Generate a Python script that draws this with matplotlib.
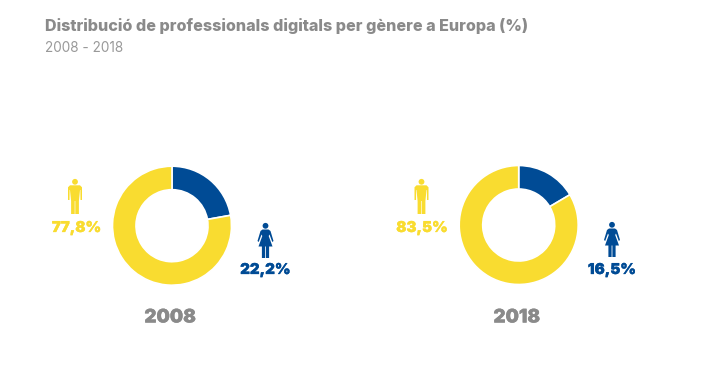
import matplotlib
matplotlib.use('Agg')
import matplotlib.pyplot as plt
import matplotlib.patheffects as pe
from matplotlib.patches import Circle, Polygon

# Dades
anys = ['2008', '2018']
dones = [22.2, 16.5]
homes = [77.8, 83.5]
etiquetes_homes = ['77,8%', '83,5%']
etiquetes_dones = ['22,2%', '16,5%']

GROC = '#F9DC30'
BLAU = '#004B95'
GRIS = '#8A8A8A'
W, H = 720, 370

plt.rcParams['font.family'] = ['Inter', 'DejaVu Sans']
fig = plt.figure(figsize=(W / 100, H / 100), dpi=100, facecolor='white')

# capa en pixels per als textos i les icones
bg = fig.add_axes([0, 0, 1, 1])
bg.set_xlim(0, W)
bg.set_ylim(H, 0)
bg.axis('off')


def home(cx, top, color):
    bg.add_patch(Circle((cx, top + 2.8), 2.9, fc=color, ec='none'))
    cos = [(-5, 6.3), (5, 6.3), (7, 8.3), (7, 21), (5.5, 21), (5.4, 11), (5, 11), (3.9, 22), (3.9, 35),
           (0.3, 35), (0.3, 22), (-0.3, 22), (-0.3, 35), (-3.9, 35), (-3.9, 22), (-5, 11), (-5.4, 11),
           (-5.5, 21), (-7, 21), (-7, 8.3)]
    bg.add_patch(Polygon([(cx + x, top + y) for x, y in cos], fc=color, ec='none'))


def dona(cx, top, color):
    bg.add_patch(Circle((cx, top + 2.8), 2.9, fc=color, ec='none'))
    cos = [(-3, 6.5), (3, 6.5), (5, 8), (8, 18), (6.8, 19), (4, 11.5), (3.2, 13), (7, 23.5), (3.6, 23.5),
           (3.6, 35), (0.4, 35), (0.4, 23.5), (-0.4, 23.5), (-0.4, 35), (-3.6, 35), (-3.6, 23.5),
           (-7, 23.5), (-3.2, 13), (-4, 11.5), (-6.8, 19), (-8, 18), (-5, 8)]
    bg.add_patch(Polygon([(cx + x, top + y) for x, y in cos], fc=color, ec='none'))


# una mica mes de gruix, la lletra original es mes negra que Inter
def gruix(color):
    return [pe.withStroke(linewidth=0.2, foreground=color)]


bg.text(45, 26, 'Distribució de professionals digitals per gènere a Europa (%)',
        fontsize=11.6, fontweight='heavy', color=GRIS, va='center', ha='left')
bg.text(45, 48, '2008 - 2018', fontsize=9.8, fontweight='normal', color='#999999', va='center', ha='left')

centres = [(172, 225.7), (518.7, 225)]
radi = 59.5
pos_homes = [(75, 179, 76.5, 228), (421.5, 179, 422, 228)]
pos_dones = [(265.5, 223, 265.5, 270), (612, 222, 612, 270)]

for i in range(2):
    cx, cy = centres[i]
    ax = fig.add_axes([(cx - radi) / W, 1 - (cy + radi) / H, 2 * radi / W, 2 * radi / H])
    ax.pie([dones[i], homes[i]], colors=[BLAU, GROC], startangle=90, counterclock=False, radius=1,
           wedgeprops={'width': 23.5 / radi, 'edgecolor': 'white', 'linewidth': 1.2})
    ax.set_xlim(-1, 1)
    ax.set_ylim(-1, 1)

    x, top, tx, ty = pos_homes[i]
    home(x, top, GROC)
    bg.text(tx, ty, etiquetes_homes[i], fontsize=10.8, fontweight='black', color=GROC, ha='center', va='center',
            path_effects=gruix(GROC))

    x, top, tx, ty = pos_dones[i]
    dona(x, top, BLAU)
    bg.text(tx, ty, etiquetes_dones[i], fontsize=10.8, fontweight='black', color=BLAU, ha='center', va='center',
            path_effects=gruix(BLAU))

    bg.text(cx - 2, 318, anys[i], fontsize=13.5, fontweight='black', color=GRIS, ha='center', va='center',
            path_effects=gruix(GRIS))

fig.savefig('out.png', dpi=100, facecolor='white')
